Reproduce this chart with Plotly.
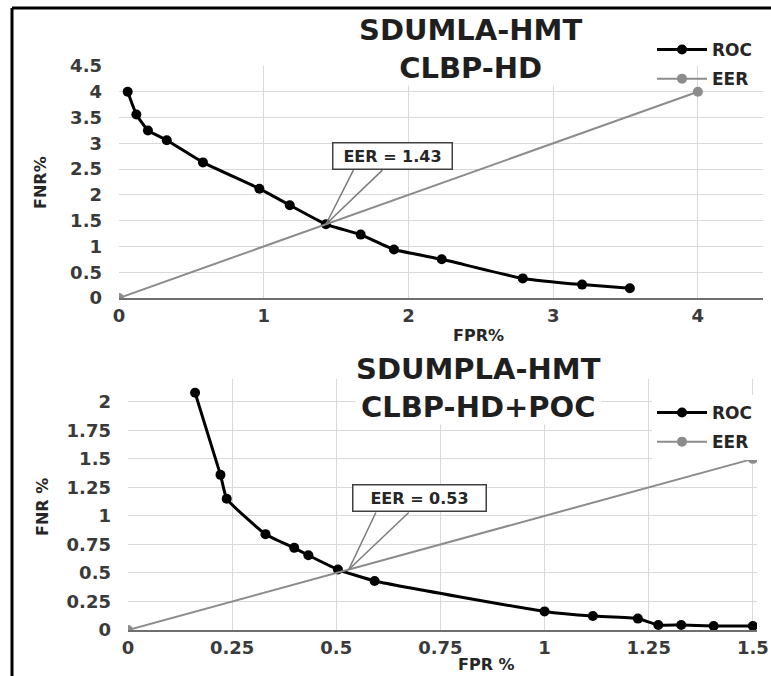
import plotly.graph_objects as go

# ---------------- data ----------------
top_title = "SDUMLA-HMT<br>CLBP-HD"
top_roc_fpr = [0.06, 0.12, 0.20, 0.33, 0.58, 0.97, 1.18, 1.43, 1.67, 1.90, 2.23, 2.79, 3.20, 3.53]
top_roc_fnr = [4.00, 3.56, 3.25, 3.06, 2.63, 2.12, 1.80, 1.43, 1.23, 0.94, 0.75, 0.38, 0.26, 0.19]
top_eer_x = [0, 4]
top_eer_y = [0, 4]
top_eer_value = 1.43

bot_title = "SDUMPLA-HMT<br>CLBP-HD+POC"
bot_roc_fpr = [0.161, 0.222, 0.237, 0.330, 0.399, 0.433, 0.504, 0.592, 1.000, 1.116, 1.224, 1.273, 1.328, 1.406, 1.500]
bot_roc_fnr = [2.08, 1.36, 1.15, 0.84, 0.72, 0.655, 0.53, 0.43, 0.163, 0.122, 0.10, 0.044, 0.044, 0.035, 0.035]
bot_eer_x = [0, 1.5]
bot_eer_y = [0, 1.5]
bot_eer_value = 0.53

top_xticks = [0, 1, 2, 3, 4]
top_yticks = [0, 0.5, 1, 1.5, 2, 2.5, 3, 3.5, 4, 4.5]
bot_xticks = [0, 0.25, 0.5, 0.75, 1, 1.25, 1.5]
bot_yticks = [0, 0.25, 0.5, 0.75, 1, 1.25, 1.5, 1.75, 2]

# ---------------- styling ----------------
W, H = 771, 676
FONT = "DejaVu Sans"
TICK = "#3a3a3a"
GRID = "#d9d9d9"
EERC = "#8c8c8c"


def px(x):
    return x / W


def py(y):
    return 1 - y / H


fig = go.Figure()

fig.add_trace(go.Scatter(x=top_roc_fpr, y=top_roc_fnr, mode="lines+markers", name="ROC",
                         line=dict(color="black", width=3, shape="spline", smoothing=0.4),
                         marker=dict(color="black", size=10), xaxis="x", yaxis="y",
                         legend="legend", legendgroup="a"))
fig.add_trace(go.Scatter(x=top_eer_x, y=top_eer_y, mode="lines+markers", name="EER",
                         line=dict(color=EERC, width=2), marker=dict(color=EERC, size=10),
                         xaxis="x", yaxis="y", legend="legend", legendgroup="b"))
fig.add_trace(go.Scatter(x=bot_roc_fpr, y=bot_roc_fnr, mode="lines+markers", name="ROC",
                         line=dict(color="black", width=3, shape="spline", smoothing=0.4),
                         marker=dict(color="black", size=10), xaxis="x2", yaxis="y2",
                         legend="legend2", legendgroup="c"))
fig.add_trace(go.Scatter(x=bot_eer_x, y=bot_eer_y, mode="lines+markers", name="EER",
                         line=dict(color=EERC, width=2), marker=dict(color=EERC, size=10),
                         xaxis="x2", yaxis="y2", legend="legend2", legendgroup="d"))

tickfont = dict(family=FONT, size=18, color=TICK, weight="bold")


def xaxis(domain, rng, ticks, anchor):
    return dict(domain=domain, range=rng, tickvals=ticks, showgrid=True, gridcolor=GRID, gridwidth=1,
                zeroline=False, showline=True, linecolor="#6f6f6f", linewidth=2, ticks="",
                tickfont=tickfont, ticklabelstandoff=0, anchor=anchor, fixedrange=True,
                automargin=False)


def yaxis(domain, rng, ticks, anchor):
    return dict(domain=domain, range=rng, tickvals=ticks, showgrid=True, gridcolor=GRID, gridwidth=1,
                zeroline=False, showline=False, ticks="", tickfont=tickfont,
                ticklabelstandoff=16, anchor=anchor, fixedrange=True, automargin=False)


legfont = dict(family=FONT, size=17, color="#262626", weight="bold")
fig.update_layout(
    width=W, height=H, margin=dict(l=0, r=0, t=0, b=0, pad=0, autoexpand=False),
    paper_bgcolor="white", plot_bgcolor="white",
    font=dict(family=FONT, color="#262626"),
    xaxis=xaxis([px(119), px(763)], [0, 4.45], top_xticks, "y"),
    yaxis=yaxis([py(298), py(66)], [0, 4.5], top_yticks, "x"),
    xaxis2=xaxis([px(128), px(757)], [0, 1.51], bot_xticks, "y2"),
    yaxis2=yaxis([py(630), py(379)], [0, 2.2], bot_yticks, "x2"),
    legend=dict(x=px(652), y=py(32), xanchor="left", yanchor="top", bgcolor="rgba(255,255,255,0)",
                font=legfont, tracegroupgap=4, itemwidth=50),
    legend2=dict(x=px(652), y=py(395), xanchor="left", yanchor="top", bgcolor="white",
                 font=legfont, tracegroupgap=4, itemwidth=50),
    showlegend=True,
)

# titles (white background covering gridlines)
titlefont = dict(family=FONT, size=29, color="#1f1f1f", weight="bold")
fig.add_annotation(text=top_title, x=px(470), y=py(49), xref="paper", yref="paper",
                   showarrow=False, font=titlefont, bgcolor="white", borderpad=0,
                   xanchor="center", yanchor="middle")
fig.add_annotation(text=bot_title, x=px(478), y=py(388), xref="paper", yref="paper",
                   showarrow=False, font=titlefont, bgcolor="white", borderpad=0,
                   xanchor="center", yanchor="middle")

# axis titles
axfont = dict(family=FONT, size=16, color="#262626", weight="bold")
for text, x, y, ang in [("FPR%", 478, 335, 0), ("FNR%", 40, 183, -90),
                        ("FPR %", 486, 664, 0), ("FNR %", 42, 507, -90)]:
    fig.add_annotation(text=text, x=px(x), y=py(y), xref="paper", yref="paper", showarrow=False,
                       font=axfont, textangle=ang, xanchor="center", yanchor="middle")


# EER callouts
def callout(xr, yr, value, bx, by, w0, w1, width):
    fig.add_shape(type="line", xref=xr, yref=yr, x0=value, y0=value, x1=w0, y1=by,
                  line=dict(color="#7a7a7a", width=1.5))
    fig.add_shape(type="line", xref=xr, yref=yr, x0=value, y0=value, x1=w1, y1=by,
                  line=dict(color="#7a7a7a", width=1.5))
    fig.add_annotation(text=f"EER = {value}", x=bx, y=by, xref=xr, yref=yr, showarrow=False,
                       xanchor="center", yanchor="bottom", bgcolor="white", bordercolor="#404040",
                       borderwidth=1.5, borderpad=3, width=width,
                       font=dict(family=FONT, size=16, color="#262626", weight="bold"))


callout("x", "y", top_eer_value, 1.89, 2.48, 1.62, 1.82, 112)
callout("x2", "y2", bot_eer_value, 0.70, 1.03, 0.595, 0.674, 126)

# outer frame (left and top edges; right/bottom lie outside the picture)
fig.add_shape(type="line", xref="paper", yref="paper", x0=px(12), x1=px(12), y0=0, y1=py(8),
              line=dict(color="black", width=3), layer="above")
fig.add_shape(type="line", xref="paper", yref="paper", x0=px(12), x1=1, y0=py(8), y1=py(8),
              line=dict(color="black", width=3), layer="above")

fig.write_html("out.html", config={"displayModeBar": False},
               post_script="document.body.style.margin='0';document.body.style.overflow='hidden';")
